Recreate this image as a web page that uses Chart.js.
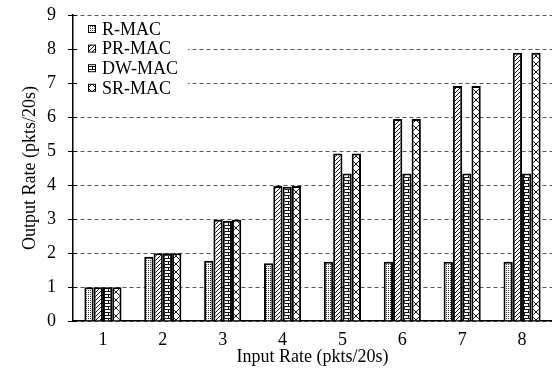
<!DOCTYPE html>
<html>
<head>
<meta charset="utf-8">
<script src="https://cdn.jsdelivr.net/npm/chart.js@4.4.0/dist/chart.umd.min.js"></script>
<style>
  html, body { margin: 0; padding: 0; background: #fff; }
  #wrap { width: 552px; height: 376px; }
</style>
</head>
<body>
<div id="wrap"><canvas id="bar-chart"></canvas></div>
<script>
var inputRates = ['1', '2', '3', '4', '5', '6', '7', '8'];
var rMac  = [0.99, 1.89, 1.77, 1.70, 1.74, 1.74, 1.74, 1.74];
var prMac = [0.99, 1.99, 2.98, 3.97, 4.93, 5.94, 6.91, 7.89];
var dwMac = [0.99, 1.99, 2.95, 3.95, 4.34, 4.34, 4.34, 4.34];
var srMac = [0.99, 1.99, 2.98, 3.97, 4.93, 5.94, 6.91, 7.89];
var seriesNames = ['R-MAC', 'PR-MAC', 'DW-MAC', 'SR-MAC'];

var FONT = "'Liberation Serif', 'Times New Roman', serif";

// small tile patterns for the black & white bars
function makePattern(w, h, draw) {
  var c = document.createElement('canvas');
  c.width = w; c.height = h;
  var g = c.getContext('2d');
  g.fillStyle = '#fff';
  g.fillRect(0, 0, w, h);
  g.fillStyle = '#111';
  draw(g);
  return g.createPattern(c, 'repeat');
}

var dots = makePattern(2, 2, function(g) {
  g.fillStyle = '#333';
  g.fillRect(0, 0, 1, 1);
});
var diag = makePattern(4, 4, function(g) {
  for (var i = 0; i < 4; i++) g.fillRect(3 - i, i, 1, 1);
});
var brick = makePattern(8, 6, function(g) {
  g.fillRect(0, 0, 8, 1);
  g.fillRect(0, 3, 8, 1);
  g.fillRect(4, 1, 1, 2);
  g.fillRect(0, 4, 1, 2);
});
var cross = makePattern(8, 8, function(g) {
  for (var i = 0; i < 8; i++) {
    g.fillRect(i, i, 1, 1);
    g.fillRect(7 - i, i, 1, 1);
  }
});

var fills = [dots, diag, brick, cross];
var values = [rMac, prMac, dwMac, srMac];

var boxLegend = {
  id: 'boxLegend',
  afterDraw: function(chart) {
    var ctx = chart.ctx;
    var area = chart.chartArea;
    ctx.save();
    // legend sits on a white box that hides the grid behind it
    ctx.fillStyle = '#fff';
    ctx.fillRect(area.left + 2, area.top + 5, 113, 79);

    // small tick marks on the inner side of the y axis
    var yScale = chart.scales.y;
    ctx.strokeStyle = '#000';
    ctx.lineWidth = 1;
    yScale.ticks.forEach(function(t) {
      var py = Math.round(yScale.getPixelForValue(t.value)) + 0.5;
      ctx.beginPath();
      ctx.moveTo(area.left, py);
      ctx.lineTo(area.left + 4, py);
      ctx.stroke();
    });

    ctx.font = '18px ' + FONT;
    ctx.textBaseline = 'middle';
    chart.data.datasets.forEach(function(ds, i) {
      var x = area.left + 15;
      var y = area.top + 14 + i * 19.6;
      ctx.fillStyle = ds.backgroundColor;
      ctx.fillRect(x, y - 3.5, 7, 7);
      ctx.lineWidth = 1;
      ctx.strokeStyle = '#000';
      ctx.strokeRect(x + 0.5, y - 3.5, 7, 7);
      ctx.fillStyle = '#000';
      ctx.fillText(ds.label, x + 14, y + 1);
    });
    ctx.restore();
  }
};

new Chart(document.getElementById('bar-chart'), {
  type: 'bar',
  data: {
    labels: inputRates,
    datasets: seriesNames.map(function(name, i) {
      return {
        label: name,
        data: values[i],
        backgroundColor: fills[i],
        borderColor: '#000',
        borderWidth: 2,
        borderSkipped: 'bottom',
        categoryPercentage: 0.62,
        barPercentage: 1.0
      };
    })
  },
  options: {
    responsive: true,
    maintainAspectRatio: false,
    animation: false,
    layout: {
      padding: { top: 0, right: 0, left: 9, bottom: 10 }
    },
    plugins: {
      legend: { display: false },
      tooltip: { enabled: false }
    },
    scales: {
      x: {
        grid: { display: false },
        border: { display: true, color: '#000', width: 1.5 },
        ticks: { color: '#000', font: { family: FONT, size: 18, lineHeight: 1 }, padding: 2 },
        title: {
          display: true,
          text: 'Input Rate (pkts/20s)',
          color: '#000',
          font: { family: FONT, size: 18, lineHeight: 1 },
          padding: { top: -3, bottom: 0 }
        }
      },
      y: {
        min: 0,
        max: 9,
        afterFit: function(scale) {
          scale.width = 64;
          scale.paddingTop = 15;
          scale.paddingBottom = 0;
        },
        ticks: { stepSize: 1, color: '#000', font: { family: FONT, size: 18 }, padding: 12 },
        grid: { color: '#555', lineWidth: 1, tickLength: 5, tickColor: '#000' },
        border: { display: true, color: '#000', width: 1.5, dash: [4, 3] },
        title: {
          display: true,
          text: 'Output Rate (pkts/20s)',
          color: '#000',
          font: { family: FONT, size: 18 },
          padding: { top: 10, bottom: 0 }
        }
      }
    }
  },
  plugins: [boxLegend]
});
</script>
</body>
</html>
